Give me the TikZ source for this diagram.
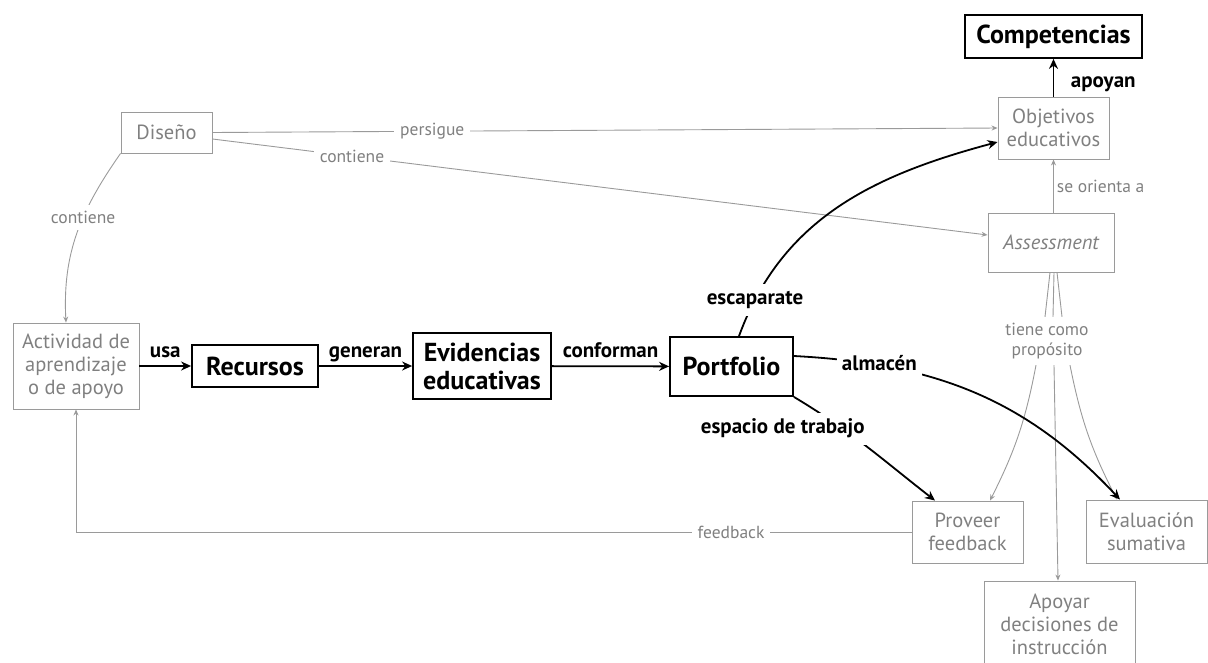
\documentclass[tikz,border=0pt]{standalone}
\usepackage{fontspec}
\setmainfont{PT Sans}
\usetikzlibrary{arrows.meta}
\definecolor{txtgray}{HTML}{808080}
\definecolor{linegray}{HTML}{9A9A9A}
\begin{document}
\begin{tikzpicture}[x=1pt,y=1pt,
  concept/.style={draw=linegray, line width=0.9pt, text=txtgray, align=center, inner sep=0pt, font=\fontsize{20.5}{23}\selectfont},
  keyconcept/.style={draw=black, line width=1.8pt, align=center, inner sep=0pt, font=\bfseries\fontsize{26}{28}\selectfont},
  glink/.style={draw=linegray, line width=0.9pt, -{Stealth[length=6pt,width=5pt]}},
  gline/.style={draw=linegray, line width=0.9pt},
  blink/.style={draw=black, line width=1.8pt, -{Stealth[length=10pt,width=9pt]}},
  gphrase/.style={fill=white, text=txtgray, inner xsep=6pt, inner ysep=6pt, align=center, font=\fontsize{17.5}{20}\selectfont},
  bphrase/.style={fill=white, inner xsep=5pt, inner ysep=6pt, text height=15pt, text depth=5pt, font=\bfseries\fontsize{21}{24}\selectfont}]
\useasboundingbox (0,0) rectangle (1208,-662);

% concepts
\node[keyconcept, minimum width=177pt, minimum height=43pt] (competencias) at (1053.5,-36.5) {Competencias};
\node[concept, minimum width=111pt, minimum height=62pt] (objetivos) at (1053.5,-128) {Objetivos\\educativos};
\node[concept, minimum width=126pt, minimum height=59pt] (assessment) at (1051,-242.5) {\itshape Assessment};
\node[concept, minimum width=91pt, minimum height=41pt] (diseno) at (166.5,-132.5) {Diseño};
\node[concept, minimum width=126pt, minimum height=86pt] (actividad) at (76,-366) {Actividad de\\aprendizaje\\o de apoyo};
\node[keyconcept, minimum width=126pt, minimum height=42pt] (recursos) at (255,-366) {Recursos};
\node[keyconcept, minimum width=138pt, minimum height=66pt] (evidencias) at (482,-366) {Evidencias\\educativas};
\node[keyconcept, minimum width=123pt, minimum height=59pt] (portfolio) at (731.5,-366.5) {Portfolio};
\node[concept, minimum width=111pt, minimum height=62pt] (proveer) at (967.5,-532) {Proveer\\feedback};
\node[concept, minimum width=121pt, minimum height=63pt] (evaluacion) at (1146.5,-531.5) {Evaluación\\sumativa};
\node[concept, minimum width=151pt, minimum height=86pt] (apoyar) at (1059.5,-624) {Apoyar\\decisiones de\\instrucción};
\node[gphrase] (proposito) at (1047,-341) {tiene como\\propósito};

% gray links
\draw[glink] (diseno.east) -- node[gphrase, pos=0.28] {persigue} (objetivos.west);
\draw[glink] ([yshift=-6.5pt]diseno.east) -- node[gphrase, pos=0.18] {contiene} ([yshift=7.5pt]assessment.west);
\draw[glink] (diseno.south west) to[out=-125, in=93] node[gphrase, pos=0.4] {contiene} ([xshift=-10pt]actividad.north);
\draw[glink] (assessment.north -| objetivos.south) -- node[gphrase, fill=none, right=-3pt] {se orienta a} (objetivos.south);
\draw[glink] (proveer.west) -| node[gphrase, pos=0.108] {feedback} (actividad.south);
\foreach \a/\b in {-1/-2, 3/6, 6/15}
  \draw[gline] ([xshift=\a pt]assessment.south) -- ([xshift=\b pt]proposito.north);
\draw[glink] ([xshift=-11pt]proposito.south) to[bend left=8] ([xshift=22.5pt]proveer.north);
\draw[glink] ([xshift=7pt]proposito.south) -- ([xshift=-1.5pt]apoyar.north);
\draw[glink] ([xshift=23pt]proposito.south) to[bend right=8] ([xshift=-29.5pt]evaluacion.north);

% black links
\draw[blink] (objetivos) -- node[bphrase, fill=none, pos=0.38, right=11.5pt] {apoyan} (competencias);
\draw[blink] (actividad) -- node[bphrase, fill=none, above=-3pt] {usa} (recursos);
\draw[blink] (recursos) -- node[bphrase, fill=none, above=-3pt] {generan} (evidencias);
\draw[blink] (evidencias) -- node[bphrase, fill=none, above=-3pt] {conforman} (portfolio);
\draw[blink] ([xshift=7.5pt]portfolio.north) to[out=70, in=195] node[bphrase, pos=0.11] {escaparate} ([yshift=-14pt]objetivos.west);
\draw[blink] ([yshift=10.5pt]portfolio.east) to[out=-3, in=133] node[bphrase, pos=0.22] {almacén} ([xshift=-26.5pt]evaluacion.north);
\draw[blink] (portfolio.south east) to[out=-31, in=142] node[bphrase, pos=0.32, xshift=-60pt] {espacio de trabajo} ([xshift=-32.5pt]proveer.north);
\end{tikzpicture}
\end{document}
